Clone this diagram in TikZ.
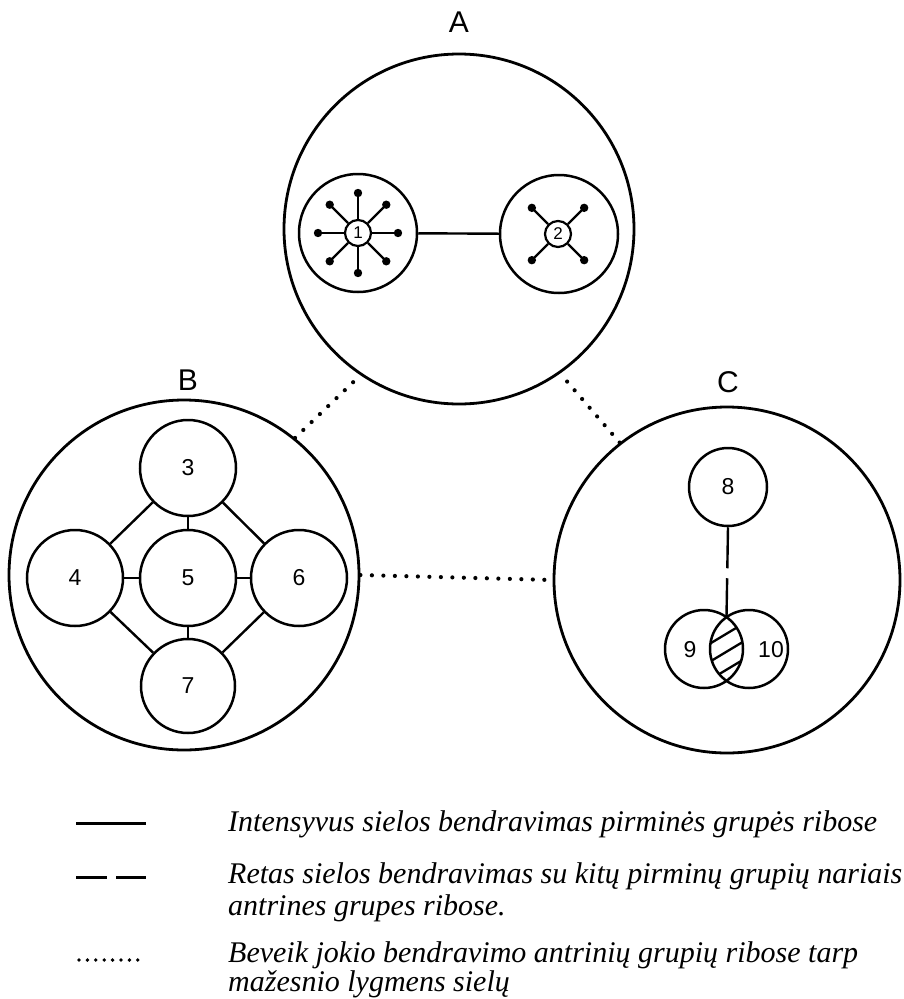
\documentclass[tikz,border=0pt]{standalone}
\usepackage{fontspec}
\setmainfont{Liberation Serif}
\setsansfont{Liberation Sans}
\usetikzlibrary{calc}
\begin{document}
\begin{tikzpicture}[x=1pt,y=-1pt,
  outer/.style={circle,draw,line width=2.8pt,inner sep=0pt},
  member/.style={circle,draw,line width=2.5pt,inner sep=0pt,minimum size=96pt,font=\sffamily\fontsize{23}{23}\selectfont},
  small/.style={circle,draw,line width=2.5pt,inner sep=0pt,minimum size=78pt,font=\sffamily\fontsize{23}{23}\selectfont},
  hub/.style={circle,draw,line width=2.2pt,inner sep=0pt,minimum size=26pt,font=\sffamily\fontsize{17}{17}\selectfont},
  grp/.style={font=\sffamily\fontsize{30}{30}\selectfont},
  link/.style={line width=2.4pt},
  spoke/.style={line width=2.3pt},
  dotline/.style={line width=4.2pt,line cap=round,dash pattern=on 0pt off 11.5pt},
  legtext/.style={anchor=base west,font=\itshape\fontsize{30}{30}\selectfont,inner sep=0pt}
]
\useasboundingbox (0,0) rectangle (903,999);

% group labels
\node[grp] (la) at (459,22) {A};
\node[grp] (lb) at (188,380) {B};
\node[grp] (lc) at (728,382) {C};

% circle A
\node[outer,minimum size=350pt] (A) at (459,229) {};
\node[outer,line width=2.5pt,minimum size=118pt] (P1) at (358,233) {};
\node[outer,line width=2.5pt,minimum size=118pt] (P2) at (559,234) {};
\node[hub] (h1) at (358,233) {1};
\node[hub] (h2) at (558,234) {2};
\draw[link] (P1) -- (P2);
\foreach \a in {0,45,...,315}{
  \draw[spoke] (h1.\a) -- ($(h1)+(-\a:40)$);
  \fill ($(h1)+(-\a:40)$) circle (4.2);
}
\foreach \a in {45,135,225,315}{
  \draw[spoke] (h2.\a) -- ($(h2)+(-\a:37)$);
  \fill ($(h2)+(-\a:37)$) circle (4.2);
}

% circle B
\node[outer,minimum size=350pt] (B) at (184,575) {};
\node[member] (n3) at (188,468) {3};
\node[member] (n4) at (75,578) {4};
\node[member] (n5) at (188,578) {5};
\node[member] (n6) at (299,578) {6};
\node[member,minimum size=94pt] (n7) at (188,686) {7};
\draw[link] (n3) -- (n5);
\draw[link] (n4) -- (n5);
\draw[link] (n5) -- (n6);
\draw[link] (n5) -- (n7);
\draw[link] (n3) -- (n4);
\draw[link] (n3) -- (n6);
\draw[link] (n4) -- (n7);
\draw[link] (n6) -- (n7);

% circle C
\node[outer,minimum size=346pt] (C) at (727,580) {};
\node[small] (n8) at (728,487) {8};
\node[small] (n9) at (704,649) {};
\node[small] (n10) at (749,649) {};
\node[font=\sffamily\fontsize{23}{23}\selectfont] (t9) at (690,650) {9};
\node[font=\sffamily\fontsize{23}{23}\selectfont] (t10) at (771,650) {10};
\begin{scope}
  \clip (704,649) circle (39);
  \clip (749,649) circle (39);
  \foreach \c in {616,634,652,670,688}{
    \draw[line width=2.3pt] (690,\c+21.6) -- (765,\c-23.4);
  }
\end{scope}
\coordinate (lens) at (726.5,617);
\draw[link,dash pattern=on 41pt off 10pt] (n8.south) -- (lens);

% dotted links between groups
\draw[dotline] (B.51) -- (A.236);
\draw[dotline] (C.128) -- (A.305);
\draw[dotline] (B.east) -- (C.west);

% legend
\coordinate (s1a) at (76,823); \coordinate (s1b) at (146,823);
\draw[line width=3pt] (s1a) -- (s1b);
\coordinate (s2a) at (76,877); \coordinate (s2b) at (146,877);
\draw[line width=3pt,dash pattern=on 31pt off 9pt] (s2a) -- (s2b);
\coordinate (s3a) at (79,960); \coordinate (s3b) at (146,960);
\draw[line width=3.8pt,line cap=round,dash pattern=on 0pt off 8.4pt] (s3a) -- (s3b);

\node[legtext] (g1) at (228,831) {Intensyvus sielos bendravimas pirminės grupės ribose};
\node[legtext] (g2) at (228,883) {Retas sielos bendravimas su kitų pirminų grupių nariais};
\node[legtext] (g3) at (228,915) {antrines grupes ribose.};
\node[legtext] (g4) at (228,962) {Beveik jokio bendravimo antrinių grupių ribose tarp};
\node[legtext] (g5) at (228,991) {mažesnio lygmens sielų};
\end{tikzpicture}
\end{document}
